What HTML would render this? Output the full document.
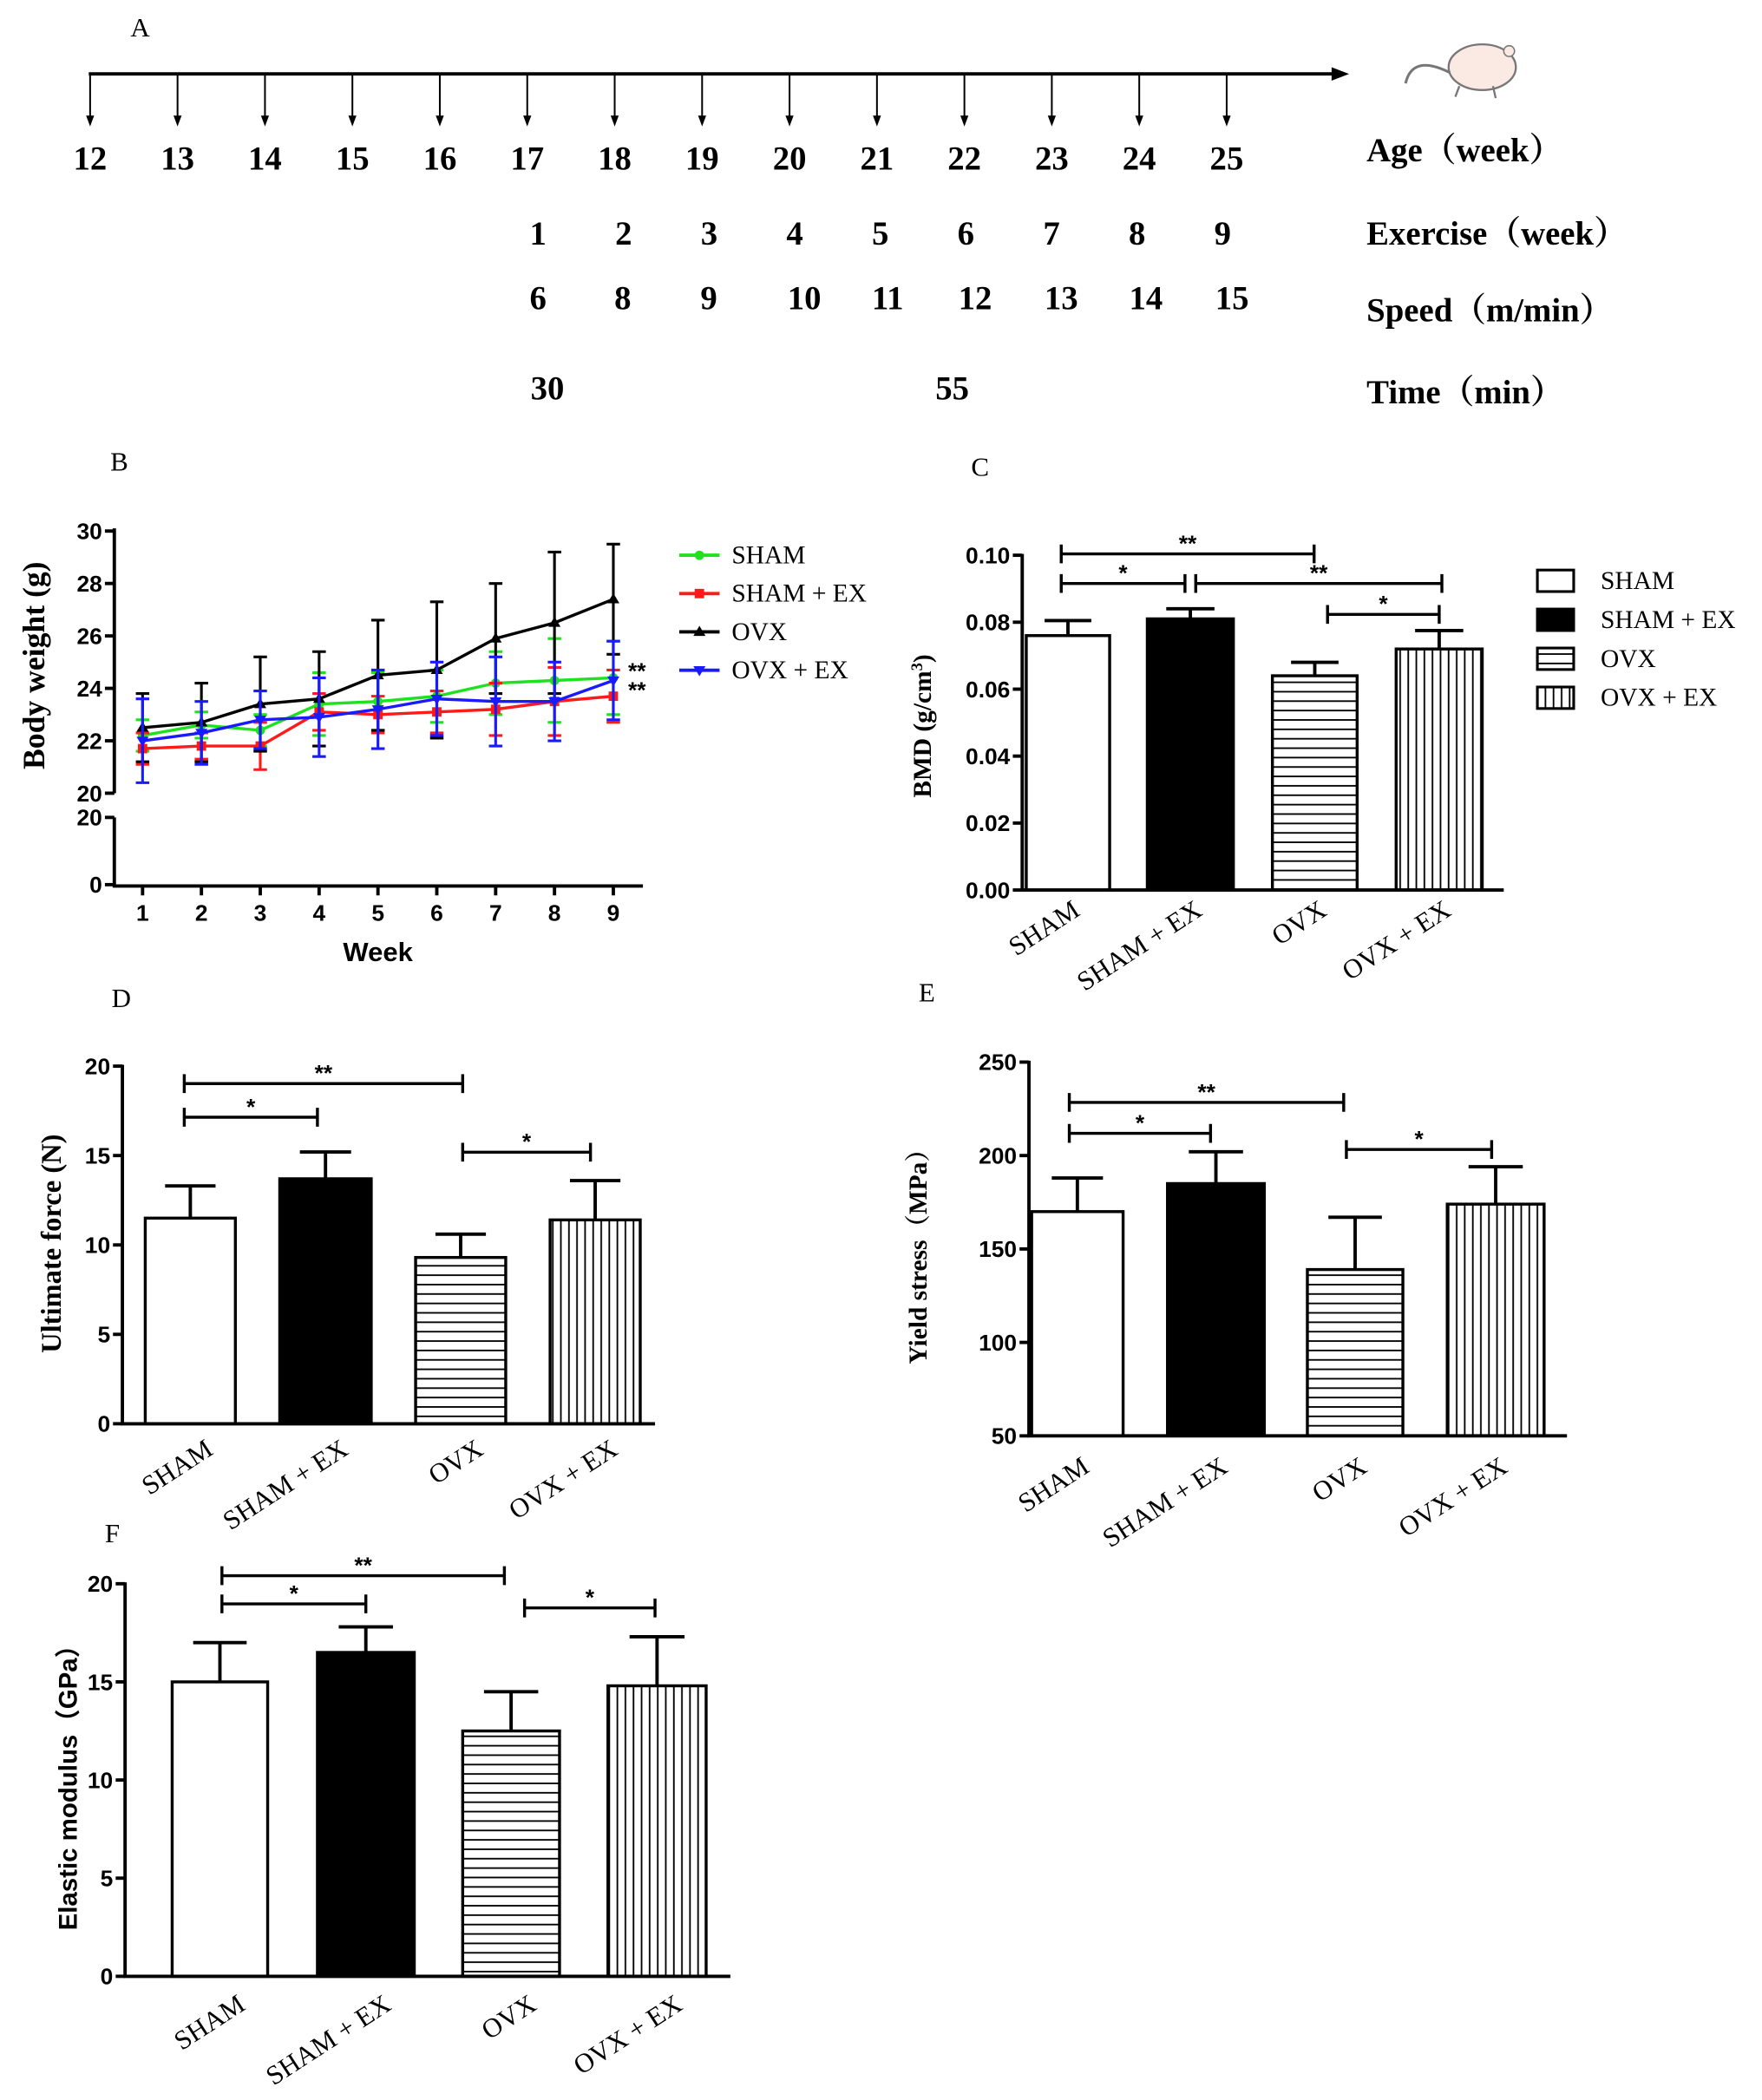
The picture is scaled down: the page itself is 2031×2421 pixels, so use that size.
<!DOCTYPE html>
<html><head><meta charset="utf-8">
<style>
html,body{margin:0;padding:0;background:#fff;}
svg{display:block;}
.serif{font-family:"Liberation Serif",serif;}
.sans{font-family:"Liberation Sans",sans-serif;}
</style></head>
<body>
<svg id="fig" width="2031" height="2421" viewBox="0 0 1310 1562" preserveAspectRatio="none" xmlns="http://www.w3.org/2000/svg">
<defs>
<pattern id="hstripe" patternUnits="userSpaceOnUse" width="8" height="7"><rect width="8" height="7" fill="#fff"/><line x1="0" y1="3.5" x2="8" y2="3.5" stroke="#000" stroke-width="1.2"/></pattern>
<pattern id="vstripe" patternUnits="userSpaceOnUse" width="6" height="8"><rect width="6" height="8" fill="#fff"/><line x1="3" y1="0" x2="3" y2="8" stroke="#000" stroke-width="1.2"/></pattern>
<marker id="ah" markerWidth="8" markerHeight="8" refX="4" refY="7" orient="auto-start-reverse" markerUnits="userSpaceOnUse"><path d="M1,0 L4,8 L7,0 Z" fill="#000"/></marker>
</defs>
<g id="root"></g>
</svg>
<script>
// ---------- Panel A timeline data ----------
const ageWeeks = [12,13,14,15,16,17,18,19,20,21,22,23,24,25];
const exerciseWeeks = [1,2,3,4,5,6,7,8,9];
const speeds = [6,8,9,10,11,12,13,14,15];
const times = [30,55];
// ---------- Panel B data ----------
const weeks = [1,2,3,4,5,6,7,8,9];
const bSham = [22.2,22.6,22.4,23.4,23.5,23.7,24.2,24.3,24.4];
const bShamErr = [0.6,0.5,0.6,1.2,1.1,1.0,1.2,1.6,1.4];
const bShamEx = [21.7,21.8,21.8,23.1,23.0,23.1,23.2,23.5,23.7];
const bShamExErr = [0.6,0.5,0.9,0.7,0.7,0.8,1.0,1.3,1.0];
const bOvx = [22.5,22.7,23.4,23.6,24.5,24.7,25.9,26.5,27.4];
const bOvxErr = [1.3,1.5,1.8,1.8,2.1,2.6,2.1,2.7,2.1];
const bOvxEx = [22.0,22.3,22.8,22.9,23.2,23.6,23.5,23.5,24.3];
const bOvxExErr = [1.6,1.2,1.1,1.5,1.5,1.4,1.7,1.5,1.5];
const bTicksUpper = [20,22,24,26,28,30];
const bTicksLower = [0,20];
// ---------- Bar panels data ----------
const groups = ["SHAM","SHAM + EX","OVX","OVX + EX"];
const bmdValues = [0.076,0.081,0.064,0.072];
const bmdErrors = [0.0045,0.003,0.004,0.0055];
const bmdTicks = ["0.00","0.02","0.04","0.06","0.08","0.10"];
const forceValues = [11.5,13.7,9.3,11.4];
const forceErrors = [1.8,1.5,1.3,2.2];
const forceTicks = [0,5,10,15,20];
const stressValues = [170,185,139,174];
const stressErrors = [18,17,28,20];
const stressTicks = [50,100,150,200,250];
const modulusValues = [15.0,16.5,12.5,14.8];
const modulusErrors = [2.0,1.3,2.0,2.5];
const modulusTicks = [0,5,10,15,20];

const NS="http://www.w3.org/2000/svg";
const root=document.getElementById('root');
function mk(tag,attrs,parent,text){const e=document.createElementNS(NS,tag);for(const k in attrs)e.setAttribute(k,attrs[k]);if(text!==undefined)e.textContent=text;(parent||root).appendChild(e);return e;}
function grp(name){const g=mk('g',{});


return g;}

// ---------- Panel A ----------
(function(){
 const g=grp('timeline-panel-a');
 const t=mk('text',{x:97,y:27,class:'serif','font-size':20},g,'A');
 
 
 const axis=mk('line',{x1:66,y1:55,x2:992,y2:55,stroke:'#000','stroke-width':2.5},g);
 
 
 const head=mk('path',{d:'M1003,55 L990,50 L990,60 Z',fill:'#000'},g);
 
 
 const x0=67, dx=(912-67)/13;
 ageWeeks.forEach((a,i)=>{
  const x=x0+dx*i;
  const l=mk('line',{x1:x,y1:56,x2:x,y2:88,stroke:'#000','stroke-width':1.3},g);
  
  
  const p=mk('path',{d:`M${x-3},86 L${x+3},86 L${x},94 Z`,fill:'#000'},g);
  
  
  const tx=mk('text',{x:x,y:126,class:'serif','font-size':25,'font-weight':'bold','text-anchor':'middle'},g,String(a));
  
  
 });
 const ex0=400, edx=(909-400)/8;
 exerciseWeeks.forEach((v,i)=>{
  const tx=mk('text',{x:ex0+edx*i,y:182,class:'serif','font-size':25,'font-weight':'bold','text-anchor':'middle'},g,String(v));
  
  
 });
 const spX=[400,463,527,598,660,725,789,852,916];
 speeds.forEach((v,i)=>{
  const tx=mk('text',{x:spX[i],y:230,class:'serif','font-size':25,'font-weight':'bold','text-anchor':'middle'},g,String(v));
  
  
 });
 const tmX=[407,708];
 times.forEach((v,i)=>{
  const tx=mk('text',{x:tmX[i],y:297,class:'serif','font-size':25,'font-weight':'bold','text-anchor':'middle'},g,String(v));
  
  
 });
 const rows=[["Age（week）",120],["Exercise（week）",182],["Speed（m/min）",239],["Time（min）",300]];
 rows.forEach(r=>{
  const tx=mk('text',{x:1016,y:r[1],'font-size':25,'font-weight':'bold',style:'font-family:"Liberation Serif","Noto Serif CJK SC",serif'},g,r[0]);
  
  
 });
 const m=grp('mouse-icon');
 mk('ellipse',{cx:1102,cy:50,rx:25,ry:17,fill:'#fbe9e4',stroke:'#777','stroke-width':1.5},m);
 mk('path',{d:'M1078,54 Q1050,40 1045,62',fill:'none',stroke:'#777','stroke-width':2},m);
 mk('circle',{cx:1122,cy:38,r:4,fill:'#fbe9e4',stroke:'#777'},m);
 mk('path',{d:'M1085,64 l-3,8 M1110,64 l2,9',stroke:'#777','stroke-width':1.5},m);
})();

// ---------- Panel B ----------
(function(){
 const g=grp('body-weight-chart');
 const ax=85, xw1=106, xw9=456;
 const xs=w=>xw1+(w-1)*(xw9-xw1)/8;
 const yU=v=>590-(v-20)*(590-395)/10;
 const yL=v=>658-v*(658-608)/20;
 const lab=mk('text',{x:82,y:350,class:'serif','font-size':20},g,'B');
 
 
 const a1=mk('path',{d:`M${ax},393 L${ax},590 M${ax},608 L${ax},659 L478,659`,fill:'none',stroke:'#000','stroke-width':2.5},g);
 
 
 bTicksUpper.forEach(v=>{
  const y=yU(v);
  const l=mk('line',{x1:ax-7,y1:y,x2:ax,y2:y,stroke:'#000','stroke-width':2.5},g);
  
  
  const t=mk('text',{x:ax-9,y:y+6,class:'sans','font-size':17,'font-weight':'bold','text-anchor':'end'},g,String(v));
  
  
 });
 bTicksLower.forEach(v=>{
  const y=yL(v);
  const l=mk('line',{x1:ax-7,y1:y,x2:ax,y2:y,stroke:'#000','stroke-width':2.5},g);
  
  
  const t=mk('text',{x:ax-9,y:y+6,class:'sans','font-size':17,'font-weight':'bold','text-anchor':'end'},g,String(v));
  
  
 });
 weeks.forEach(w=>{
  const x=xs(w);
  const l=mk('line',{x1:x,y1:659,x2:x,y2:666,stroke:'#000','stroke-width':2.5},g);
  
  
  const t=mk('text',{x:x,y:685,class:'sans','font-size':17,'font-weight':'bold','text-anchor':'middle'},g,String(w));
  
  
 });
 const xt=mk('text',{x:281,y:715,class:'sans','font-size':20,'font-weight':'bold','text-anchor':'middle'},g,'Week');
 
 
 const yt=mk('text',{x:0,y:0,transform:'translate(33,495) rotate(-90)',class:'serif','font-size':23,'font-weight':'bold','text-anchor':'middle'},g,'Body weight (g)');
 
 
 const series=[[bSham,bShamErr,'#1fe21f','circle','SHAM'],[bShamEx,bShamExErr,'#ff1a1a','square','SHAM + EX'],[bOvx,bOvxErr,'#000','tri','OVX'],[bOvxEx,bOvxExErr,'#1a1aff','itri','OVX + EX']];
 function marker(par,x,y,shape,c){
  let e;
  if(shape==='circle')e=mk('circle',{cx:x,cy:y,r:3.5,fill:c},par);
  else if(shape==='square')e=mk('rect',{x:x-3.5,y:y-3.5,width:7,height:7,fill:c},par);
  else if(shape==='tri')e=mk('path',{d:`M${x},${y-4.5} L${x+4.5},${y+3} L${x-4.5},${y+3} Z`,fill:c},par);
  else e=mk('path',{d:`M${x},${y+4.5} L${x+4.5},${y-3} L${x-4.5},${y-3} Z`,fill:c},par);
  return e;
 }
 series.forEach((s,si)=>{
  const sg=grp('series-'+s[4].toLowerCase().replace(/[^a-z]+/g,'-'));
  g.appendChild(sg);
  s[0].forEach((v,i)=>{
   const x=xs(weeks[i]);
   const eb=mk('path',{d:`M${x},${yU(v-s[1][i])} L${x},${yU(v+s[1][i])} M${x-5},${yU(v+s[1][i])} L${x+5},${yU(v+s[1][i])} M${x-5},${yU(v-s[1][i])} L${x+5},${yU(v-s[1][i])}`,stroke:s[2],'stroke-width':2,fill:'none'},sg);
   
   
  });
  const d=s[0].map((v,i)=>(i?'L':'M')+xs(weeks[i])+','+yU(v)).join(' ');
  const ln=mk('path',{d:d,stroke:s[2],'stroke-width':2.2,fill:'none'},sg);
  
  
  s[0].forEach((v,i)=>{
   const mkr=marker(sg,xs(weeks[i]),yU(v),s[3],s[2]);
   
   
  });
  const ly=413+si*28.5;
  const ll=mk('line',{x1:505,y1:ly,x2:535,y2:ly,stroke:s[2],'stroke-width':2.5},g);
  
  
  const lm=marker(g,520,ly,s[3],s[2]);
  
  
  const lt=mk('text',{x:544,y:ly+6,class:'serif','font-size':19},g,s[4]);
  
  
 });
 [505,519].forEach(y=>{
  const t=mk('text',{x:467,y:y,class:'sans','font-size':17,'font-weight':'bold'},g,'**');
  
  
 });
})();

// ---------- Bar chart builder ----------
const fills=['#fff','#000','url(#hstripe)','url(#vstripe)'];
function barChart(cfg,values,errors,ticks){
 const g=grp(cfg.name);
 const y=v=>cfg.y0-(v-cfg.vmin)*(cfg.y0-cfg.y1)/(cfg.vmax-cfg.vmin);
 const lab=mk('text',{x:cfg.lx,y:cfg.ly,class:'serif','font-size':20},g,cfg.label);
 
 
 values.forEach((v,i)=>{
  const bx=cfg.bars[i][0], bw=cfg.bars[i][1]-cfg.bars[i][0], cx=bx+bw/2;
  const e=y(v+errors[i]);
  const eb=mk('path',{d:`M${cx},${y(v)} L${cx},${e} M${cx-bw*0.28},${e} L${cx+bw*0.28},${e}`,stroke:'#000','stroke-width':2.5,fill:'none'},g);
  
  
  const r=mk('rect',{x:bx,y:y(v),width:bw,height:cfg.y0-y(v),fill:fills[i],stroke:'#000','stroke-width':2.2},g);
  
  
  const tl=mk('text',{x:0,y:0,transform:`translate(${cx+cfg.labDx},${cfg.y0+cfg.labDy}) rotate(-33)`,class:'serif','font-size':cfg.catFs,'text-anchor':'end'},g,groups[i]);
  
  
 });
 const ax=mk('path',{d:`M${cfg.ax},${y(cfg.vmax)-1} L${cfg.ax},${cfg.y0} L${cfg.xend},${cfg.y0}`,fill:'none',stroke:'#000','stroke-width':2.5},g);
 
 
 ticks.forEach(t=>{
  const yy=y(parseFloat(t));
  const l=mk('line',{x1:cfg.ax-7,y1:yy,x2:cfg.ax,y2:yy,stroke:'#000','stroke-width':2.5},g);
  
  
  const tx=mk('text',{x:cfg.ax-9,y:yy+6,class:'sans','font-size':17,'font-weight':'bold','text-anchor':'end'},g,String(t));
  
  
 });
 const yt=mk('text',{x:0,y:0,transform:`translate(${cfg.tx},${cfg.ty}) rotate(-90)`,'font-size':cfg.tfs,'font-weight':'bold','text-anchor':'middle',style:cfg.tfont},g);
 yt.innerHTML=cfg.title;
 
 
 cfg.sig.forEach(s=>{
  const p=mk('path',{d:`M${s[0]},${s[2]} L${s[1]},${s[2]} M${s[0]},${s[2]-7} L${s[0]},${s[2]+7} M${s[1]},${s[2]-7} L${s[1]},${s[2]+7}`,stroke:'#000','stroke-width':2.2,fill:'none'},g);
  
  
  const t=mk('text',{x:(s[0]+s[1])/2,y:s[2]-2,class:'sans','font-size':17,'font-weight':'bold','text-anchor':'middle'},g,s[3]);
  
  
 });
 return g;
}

barChart({name:'bmd-chart',label:'C',lx:722,ly:354,ax:760,y0:662,y1:413,vmin:0,vmax:0.10,xend:1118,
 bars:[[763,825],[853,917],[946,1009],[1038,1102]],labDx:10,labDy:18,catFs:20,
 title:'BMD (g/cm<tspan baseline-shift="super" font-size="12">3</tspan>)',tx:692,ty:540,tfs:19,tfont:'font-family:"Liberation Serif",serif',
 sig:[[789,977,412,'**'],[789,881,434,'*'],[889,1072,434,'**'],[987,1070,457,'*']]},bmdValues,bmdErrors,bmdTicks);

barChart({name:'ultimate-force-chart',label:'D',lx:83,ly:749,ax:91,y0:1059,y1:793,vmin:0,vmax:20,xend:487,
 bars:[[108,175],[208,276],[309,376],[409,476]],labDx:18,labDy:22,catFs:20,
 title:'Ultimate force (N)',tx:45,ty:925,tfs:21,tfont:'font-family:"Liberation Serif",serif',
 sig:[[137,344,806,'**'],[137,236,831,'*'],[344,439,857,'*']]},forceValues,forceErrors,forceTicks);

barChart({name:'yield-stress-chart',label:'E',lx:683,ly:745,ax:765,y0:1068,y1:790,vmin:50,vmax:250,xend:1165,
 bars:[[767,835],[868,940],[972,1043],[1076,1148]],labDx:10,labDy:26,catFs:20,
 title:'Yield stress（MPa）',tx:689,ty:930,tfs:19,tfont:'font-family:"Liberation Serif","Noto Serif CJK SC",serif',
 sig:[[795,999,820,'**'],[795,900,843,'*'],[1001,1109,855,'*']]},stressValues,stressErrors,stressTicks);

barChart({name:'elastic-modulus-chart',label:'F',lx:78,ly:1147,ax:93,y0:1470,y1:1178,vmin:0,vmax:20,xend:543,
 bars:[[128,199],[236,308],[344,416],[452,525]],labDx:20,labDy:24,catFs:20,
 title:'Elastic modulus（GPa）',tx:57,ty:1325,tfs:19,tfont:'font-family:"Liberation Sans","Noto Sans CJK SC",sans-serif',
 sig:[[165,375,1172,'**'],[165,272,1193,'*'],[390,487,1196,'*']]},modulusValues,modulusErrors,modulusTicks);

// ---------- Legend for C ----------
(function(){
 const g=grp('bmd-legend');
 groups.forEach((name,i)=>{
  const y=424+i*29;
  const r=mk('rect',{x:1143,y:y,width:27,height:16,fill:fills[i],stroke:'#000','stroke-width':2},g);
  
  
  const t=mk('text',{x:1190,y:y+14,class:'serif','font-size':19},g,name);
  
  
 });
})();
</script>
</body></html>
